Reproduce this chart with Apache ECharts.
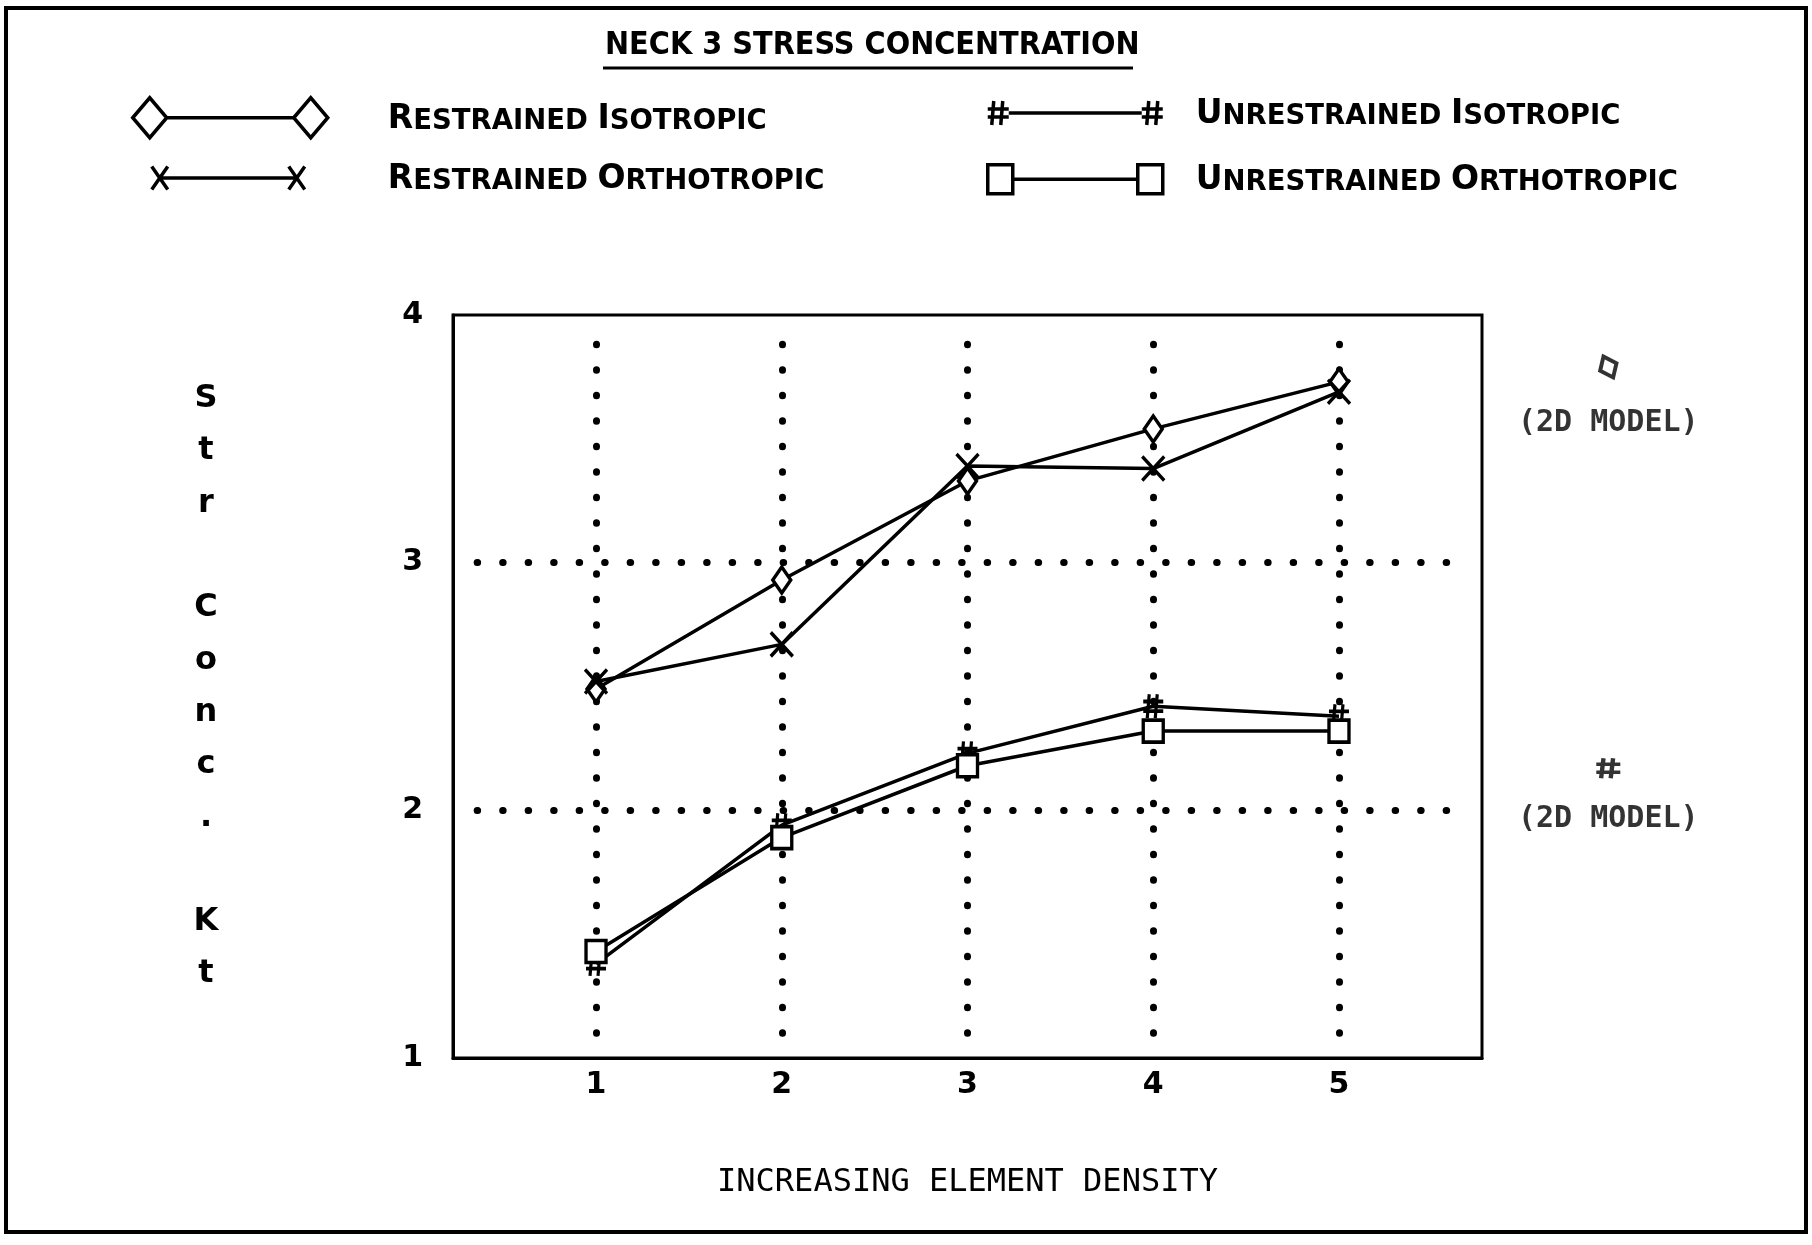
<!DOCTYPE html>
<html>
<head>
<meta charset="utf-8">
<script src="https://cdn.jsdelivr.net/npm/echarts@6/dist/echarts.min.js"></script>
<style>
  html, body { margin: 0; padding: 0; background: #fff; }
  #chart { width: 1812px; height: 1245px; }
</style>
</head>
<body>
<div id="chart"></div>
<script>
// values
const densityLevels = [1, 2, 3, 4, 5];
const restrainedIso = [2.49, 2.93, 3.33, 3.54, 3.73];
const restrainedOrtho = [2.52, 2.67, 3.39, 3.38, 3.69];
const unrestrainedIso = [1.38, 1.94, 2.23, 2.42, 2.38];
const unrestrainedOrtho = [1.43, 1.89, 2.18, 2.32, 2.32];

// 2D model reference points (drawn right of the plot box)
const model2dX = 6.45;
const model2dRestrained = 3.79;
const model2dUnrestrained = 2.17;

// dotted grid positions
const gridXs = [1, 2, 3, 4, 5];
const gridYs = [2, 3];

const seriesNames = [
  "RESTRAINED ISOTROPIC",
  "RESTRAINED ORTHOTROPIC",
  "UNRESTRAINED ISOTROPIC",
  "UNRESTRAINED ORTHOTROPIC",
];

const crossPath = "path://M0,0L20,20M20,0L0,20";
const hashPath = "path://M6,0L4,20M14,0L12,20M0,6L20,6M0,14L20,14";

const chart = echarts.init(document.getElementById("chart"));

const toPoints = (vals) => densityLevels.map((x, i) => [x, vals[i]]);

// small caps: first letter of each word bigger
function smallCaps(name) {
  return (
    "{sp| }" +
    name
      .split(" ")
      .map((w) => "{b|" + w[0] + "}{s|" + w.slice(1) + "}")
      .join("{s| }")
  );
}

function legendFor(name, icon, w, h, left, top, sp) {
  return {
    data: [{ name: name, icon: icon }],
    left: left,
    top: top,
    padding: 0,
    itemWidth: w,
    itemHeight: h,
    selectedMode: false,
    itemStyle: { color: "#fff", borderColor: "#000", borderWidth: 3.5 },
    formatter: smallCaps,
    textStyle: {
      color: "#000",
      rich: {
        sp: { width: sp, fontSize: 10, lineHeight: 36 },
        b: { fontFamily: "DejaVu Sans", fontWeight: "bold", fontSize: 33, lineHeight: 36, verticalAlign: "bottom", color: "#000" },
        s: { fontFamily: "DejaVu Sans", fontWeight: "bold", fontSize: 27.5, lineHeight: 36, verticalAlign: "bottom", color: "#000" },
      },
    },
  };
}

const dotted = {
  color: "#000",
  width: 7,
  type: [0.5, 25],
  cap: "round",
};

const gridLines = [];
gridXs.forEach((x) => {
  gridLines.push([{ coord: [x, 1.1] }, { coord: [x, 3.96] }]);
});
gridYs.forEach((y) => {
  gridLines.push([{ coord: [0.36, y] }, { coord: [5.69, y] }]);
});

const lineBase = {
  type: "line",
  lineStyle: { color: "#000", width: 3.5 },
  itemStyle: { color: "#fff", borderColor: "#000", borderWidth: 3.5 },
  animation: false,
  z: 3,
};

const option = {
  backgroundColor: "#fff",
  animation: false,
  title: {
    text: "NECK 3 STRESS CONCENTRATION",
    left: 605,
    top: 30,
    padding: 0,
    textStyle: {
      fontFamily: "DejaVu Sans Condensed",
      fontWeight: "bold",
      fontSize: 32,
      color: "#000",
    },
  },
  legend: [
    legendFor(seriesNames[0],
      "path://M0,20L17,0L34,20L17,40ZM34,20L161,20M161,20L178,0L195,20L178,40Z",
      195, 40, 131, 96, 55),
    legendFor(seriesNames[1],
      "path://M0,0L16,23M16,0L0,23M8,11.5L145,11.5M137,0L153,23M153,0L137,23",
      153, 23, 150, 163, 78),
    legendFor(seriesNames[2],
      "path://M6,0L4,24M15,0L13,24M0,8L21,8M0,16L21,16M21,12L154,12M161,0L159,24M170,0L168,24M154,8L175,8M154,16L175,16",
      175, 24, 986, 98, 28),
    legendFor(seriesNames[3],
      "path://M0,0L25,0L25,29L0,29ZM25,14.5L150,14.5M150,0L175,0L175,29L150,29Z",
      175, 29, 986, 163, 28),
  ],
  grid: {
    left: 453,
    right: 330,
    top: 315,
    bottom: 187,
    show: true,
    borderColor: "#000",
    borderWidth: 3,
    backgroundColor: "transparent",
  },
  xAxis: {
    type: "value",
    min: 0.23,
    max: 5.77,
    name: "INCREASING ELEMENT DENSITY",
    nameLocation: "middle",
    nameGap: 125,
    nameTextStyle: {
      fontFamily: "DejaVu Sans Mono",
      fontSize: 32,
      color: "#000",
      align: "center",
      verticalAlign: "middle",
    },
    axisLine: { show: true, lineStyle: { color: "#000", width: 3 } },
    axisTick: { show: false },
    splitLine: { show: false },
    axisLabel: {
      customValues: densityLevels,
      margin: 12,
      fontFamily: "DejaVu Sans",
      fontWeight: "bold",
      fontSize: 30,
      color: "#000",
      formatter: (v) => String(v),
    },
  },
  yAxis: {
    type: "value",
    min: 1,
    max: 4,
    interval: 1,
    name: "S\nt\nr\n\nC\no\nn\nc\n.\n\nK\nt",
    nameLocation: "middle",
    nameRotate: 0,
    nameGap: 247,
    nameTextStyle: {
      fontFamily: "DejaVu Sans",
      fontWeight: "bold",
      fontSize: 32,
      lineHeight: 52.3,
      color: "#000",
      align: "center",
      verticalAlign: "middle",
      padding: [14, 0, 0, 0],
    },
    axisLine: { show: true, lineStyle: { color: "#000", width: 3 } },
    axisTick: { show: false },
    splitLine: { show: false },
    axisLabel: {
      margin: 30,
      fontFamily: "DejaVu Sans",
      fontWeight: "bold",
      fontSize: 30,
      color: "#000",
    },
  },
  series: [
    {
      // dotted reference grid
      type: "scatter",
      name: "grid",
      data: [],
      silent: true,
      z: 1,
      markLine: {
        z: 1,
        silent: true,
        symbol: ["none", "none"],
        label: { show: false },
        lineStyle: dotted,
        emphasis: { disabled: true },
        animation: false,
        data: gridLines,
      },
    },
    Object.assign({}, lineBase, {
      name: seriesNames[0],
      data: toPoints(restrainedIso),
      symbol: "diamond",
      symbolSize: [18, 26],
    }),
    Object.assign({}, lineBase, {
      name: seriesNames[1],
      data: toPoints(restrainedOrtho),
      symbol: crossPath,
      symbolSize: [22, 24],
    }),
    Object.assign({}, lineBase, {
      name: seriesNames[2],
      data: toPoints(unrestrainedIso),
      symbol: hashPath,
      symbolSize: [20, 24],
    }),
    Object.assign({}, lineBase, {
      name: seriesNames[3],
      data: toPoints(unrestrainedOrtho),
      symbol: "rect",
      symbolSize: [20, 22],
    }),
    {
      type: "scatter",
      name: "2D MODEL",
      clip: false,
      animation: false,
      itemStyle: { color: "#fff", borderColor: "#000", borderWidth: 4 },
      label: {
        show: true,
        position: "bottom",
        distance: 24,
        formatter: "(2D MODEL)",
        fontFamily: "DejaVu Sans Mono",
        fontWeight: "bold",
        fontSize: 30,
        color: "#000",
      },
      data: [
        { value: [model2dX, model2dRestrained], symbol: "diamond", symbolSize: [18, 23], symbolRotate: 25 },
        { value: [model2dX, model2dUnrestrained], symbol: hashPath, symbolSize: [24, 20] },
      ],
    },
  ],
  graphic: [
    {
      // page frame
      type: "rect",
      shape: { x: 6, y: 8, width: 1800, height: 1224 },
      style: { fill: "none", stroke: "#000", lineWidth: 4 },
      silent: true,
    },
    {
      // title underline
      type: "line",
      shape: { x1: 603, y1: 68, x2: 1133, y2: 68 },
      style: { stroke: "#000", lineWidth: 3 },
      silent: true,
    },
  ],
};

chart.setOption(option);
</script>
</body>
</html>
